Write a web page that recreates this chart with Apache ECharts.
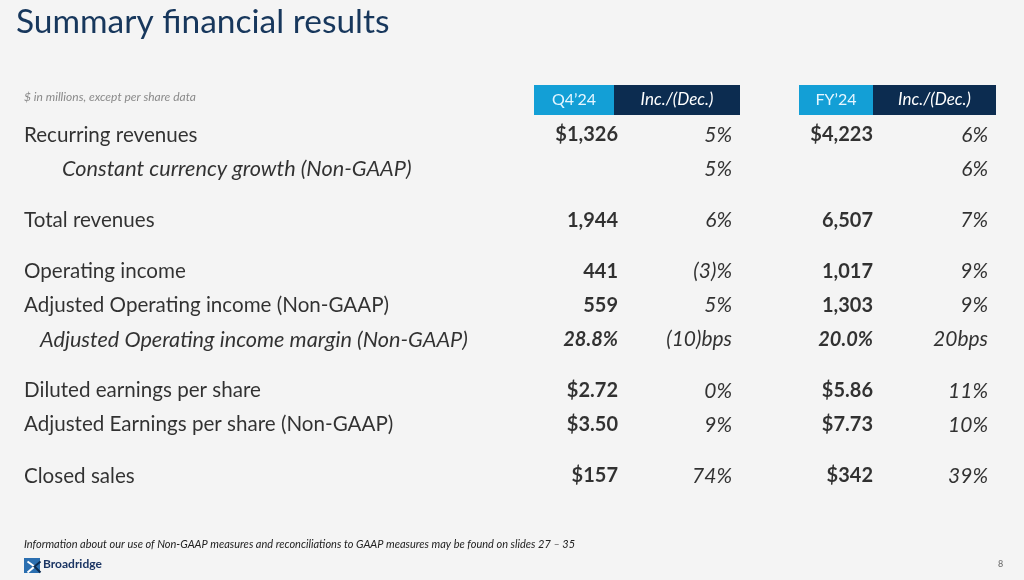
<!DOCTYPE html>
<html><head><meta charset="utf-8">
<script src="https://cdn.jsdelivr.net/npm/echarts@6/dist/echarts.min.js"></script>
<style>html,body{margin:0;padding:0;background:#f4f4f4;}#c{width:1024px;height:580px;}</style>
</head><body><div id="c"></div>
<script>
const title = "Summary financial results";
const unitNote = "$ in millions, except per share data";
const headers = ["Q4\u201924", "Inc./(Dec.)", "FY\u201924", "Inc./(Dec.)"];
const rowLabels = [
  "Recurring revenues",
  "Constant currency growth (Non-GAAP)",
  "Total revenues",
  "Operating income",
  "Adjusted Operating income (Non-GAAP)",
  "Adjusted Operating income margin (Non-GAAP)",
  "Diluted earnings per share",
  "Adjusted Earnings per share (Non-GAAP)",
  "Closed sales"
];
const rowGroupSizes = [2, 1, 3, 2, 1];
const q4Values = ["$1,326", "", "1,944", "441", "559", "28.8%", "$2.72", "$3.50", "$157"];
const q4Change = ["5%", "5%", "6%", "(3)%", "5%", "(10)bps", "0%", "9%", "74%"];
const fyValues = ["$4,223", "", "6,507", "1,017", "1,303", "20.0%", "$5.86", "$7.73", "$342"];
const fyChange = ["6%", "6%", "7%", "9%", "9%", "20bps", "11%", "10%", "39%"];
const footnote = "Information about our use of Non-GAAP measures and reconciliations to GAAP measures may be found on slides 27 \u2013 35";
const pageNumber = "8";
const brand = "Broadridge";

// build row slots (rows within a group 2 slots apart, 3 slots between groups)
const yCats = [];
const rowKeys = [];
let r = 0, gapN = 0;
rowGroupSizes.forEach((n, gi) => {
  for (let k = 0; k < n; k++) {
    const key = 'row' + r; rowKeys.push(key); yCats.push(key); r++;
    if (k < n - 1) yCats.push('_g' + (gapN++));
  }
  if (gi < rowGroupSizes.length - 1) { yCats.push('_g' + (gapN++)); yCats.push('_g' + (gapN++)); }
});

const FONT = 'Lato, "Open Sans", sans-serif';
const columns = [
  {anchor: 24,  pos: 'right', texts: rowLabels, weight: 'normal', style: 'normal', fs: 20.6},
  {anchor: 618, pos: 'left',  texts: q4Values,  weight: 'bold',   style: 'normal', fs: 20},
  {anchor: 732, pos: 'left',  texts: q4Change,  weight: 'normal', style: 'italic', fs: 21},
  {anchor: 873, pos: 'left',  texts: fyValues,  weight: 'bold',   style: 'normal', fs: 20},
  {anchor: 988, pos: 'left',  texts: fyChange,  weight: 'normal', style: 'italic', fs: 21}
];
const italicRows = {1: true, 5: true};
const indentRows = {1: 38, 5: 16};

const gridTop = 126.5, gridH = 358;
const grids = [], xAxes = [], yAxes = [], series = [];
columns.forEach((col, ci) => {
  grids.push({left: col.anchor - 1, width: 2, top: gridTop, height: gridH});
  xAxes.push({type: 'category', data: ['c'], gridIndex: ci, show: false});
  yAxes.push({type: 'category', data: yCats, inverse: true, gridIndex: ci, show: false});
  const data = [];
  col.texts.forEach((t, i) => {
    if (t === '') return;
    const item = {value: ['c', rowKeys[i]], name: t};
    const lab = {};
    if (italicRows[i]) { lab.fontStyle = 'italic'; if (ci === 0) lab.fontSize = 21.7; }
    if (ci === 0 && indentRows[i]) lab.distance = indentRows[i];
    item.label = lab;
    data.push(item);
  });
  series.push({
    type: 'scatter', xAxisIndex: ci, yAxisIndex: ci, symbolSize: 0, silent: true,
    data: data,
    label: {show: true, position: col.pos, distance: 0, formatter: p => p.name,
      color: '#000', fontFamily: FONT, fontSize: col.fs, fontWeight: col.weight, fontStyle: col.style}
  });
});

const headerCells = [
  {x: 534, w: 80, fill: '#139fd6', text: headers[0], color: '#e6f6ff', italic: false},
  {x: 614, w: 126, fill: '#0c2c50', text: headers[1], color: '#ffffff', italic: true},
  {x: 799, w: 74, fill: '#139fd6', text: headers[2], color: '#e6f6ff', italic: false},
  {x: 873, w: 123, fill: '#0c2c50', text: headers[3], color: '#ffffff', italic: true}
];
const graphic = [
  {type: 'text', left: 16, top: 5, style: {text: title, fill: '#17375c', font: '400 33.5px ' + FONT}},
  {type: 'text', left: 24, top: 91, style: {text: unitNote, fill: '#8a8a8a', font: 'italic 12px ' + FONT}},
  {type: 'text', left: 24, top: 539, style: {text: footnote, fill: '#222', font: 'italic 11px ' + FONT}},
  {type: 'text', left: 998, top: 560, style: {text: pageNumber, fill: '#666', font: '9px ' + FONT}},
  {type: 'rect', left: 24, top: 558, shape: {width: 16, height: 15}, style: {fill: '#2b6fb0'}},
  {type: 'polyline', left: 25, top: 559, shape: {points: [[0, 2], [7, 7], [0, 13]]}, style: {stroke: '#fff', lineWidth: 2, fill: null}},
  {type: 'polyline', left: 32, top: 559, shape: {points: [[7, 2], [1, 7], [7, 13]]}, style: {stroke: '#0c2c50', lineWidth: 2, fill: null}},
  {type: 'text', left: 43, top: 558, style: {text: brand, fill: '#1b3563', font: 'bold 12px ' + FONT}}
];
headerCells.forEach(h => {
  graphic.push({type: 'rect', left: h.x, top: 85, shape: {width: h.w, height: 30}, style: {fill: h.fill}});
  graphic.push({type: 'text', x: h.x + h.w / 2, y: 100, style: {text: h.text, fill: h.color,
    font: (h.italic ? 'italic 17px ' : '16px ') + FONT, align: 'center', verticalAlign: 'middle'}});
});

const chart = echarts.init(document.getElementById('c'), null, {renderer: 'canvas'});
chart.setOption({
  backgroundColor: '#f4f4f4',
  animation: false,
  grid: grids, xAxis: xAxes, yAxis: yAxes, series: series, graphic: graphic
});
</script></body></html>
